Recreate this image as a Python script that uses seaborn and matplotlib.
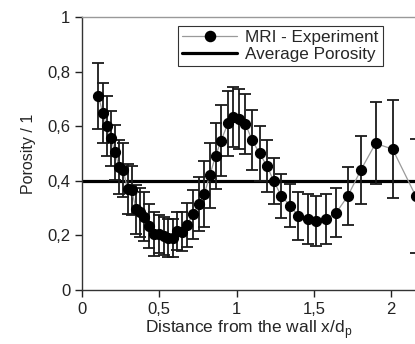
import matplotlib
matplotlib.use("Agg")
import matplotlib.pyplot as plt
import seaborn as sns
import pandas as pd
from matplotlib.lines import Line2D
from matplotlib.ticker import FuncFormatter

distance = [0.106, 0.134, 0.160, 0.186, 0.214, 0.240, 0.266, 0.295, 0.322, 0.350,
            0.376, 0.402, 0.435, 0.468, 0.500, 0.530, 0.558, 0.586, 0.618, 0.648,
            0.680, 0.718, 0.755, 0.792, 0.827, 0.864, 0.900, 0.944, 0.978, 1.018,
            1.058, 1.100, 1.149, 1.197, 1.240, 1.290, 1.346, 1.400, 1.460, 1.517,
            1.580, 1.645, 1.720, 1.805, 1.900, 2.010, 2.160]
porosity = [0.71, 0.65, 0.60, 0.556, 0.504, 0.45, 0.44, 0.37, 0.365, 0.295,
            0.285, 0.268, 0.235, 0.205, 0.205, 0.198, 0.19, 0.19, 0.217, 0.214,
            0.238, 0.278, 0.315, 0.352, 0.42, 0.49, 0.547, 0.61, 0.635, 0.628,
            0.607, 0.55, 0.50, 0.454, 0.40, 0.344, 0.309, 0.272, 0.26, 0.254,
            0.26, 0.283, 0.344, 0.44, 0.537, 0.516, 0.344]
error = [0.12, 0.11, 0.11, 0.10, 0.10, 0.10, 0.10, 0.09, 0.09, 0.09,
         0.09, 0.09, 0.08, 0.08, 0.07, 0.07, 0.07, 0.07, 0.07, 0.07,
         0.08, 0.09, 0.10, 0.12, 0.12, 0.12, 0.13, 0.12, 0.11, 0.11,
         0.11, 0.11, 0.10, 0.095, 0.085, 0.08, 0.08, 0.088, 0.092, 0.092,
         0.092, 0.09, 0.105, 0.125, 0.15, 0.18, 0.21]
average_porosity = 0.4
x_ticks = [0, 0.5, 1, 1.5, 2]
y_ticks = [0, 0.2, 0.4, 0.6, 0.8, 1]

df = pd.DataFrame({"x": distance, "y": porosity, "e": error})

sns.set_style("ticks")
plt.rcParams["font.family"] = ["Liberation Sans", "DejaVu Sans"]

fig = plt.figure(figsize=(4.15, 3.44), dpi=100)
ax = fig.add_axes([0.1976, 0.157, 0.8024, 0.7936])

ax.axhline(average_porosity, color="black", lw=2.3, zorder=1)
ax.errorbar(df["x"], df["y"], yerr=df["e"], fmt="none", ecolor="#1a1a1a",
            elinewidth=1.3, capsize=4, capthick=1.3, zorder=2)
sns.lineplot(data=df, x="x", y="y", ax=ax, color="#9a9a9a", lw=0.9,
             marker="o", markersize=7.3, markerfacecolor="black",
             markeredgecolor="black", sort=False, zorder=3)

ax.set_xlim(0, 2.155)
ax.set_ylim(0, 1)
ax.set_xticks(x_ticks)
ax.set_yticks(y_ticks)
fmt = FuncFormatter(lambda v, p: ("%g" % v).replace(".", ","))
ax.xaxis.set_major_formatter(fmt)
ax.yaxis.set_major_formatter(fmt)
ax.tick_params(labelsize=12, colors="#222222", length=5, width=1, direction="out")
ax.set_xlabel("Distance from the wall x/d$_\\mathregular{p}$", fontsize=12.5, labelpad=1)
ax.set_ylabel("Porosity / 1", fontsize=11.5, labelpad=8)

for s in ["left", "bottom"]:
    ax.spines[s].set_color("#333333")
    ax.spines[s].set_linewidth(1)
ax.spines["top"].set_color("#999999")
ax.spines["top"].set_linewidth(1)
ax.spines["right"].set_visible(False)

handles = [
    Line2D([], [], color="#9a9a9a", lw=0.9, marker="o", markersize=7.3,
           markerfacecolor="black", markeredgecolor="black"),
    Line2D([], [], color="black", lw=2.3),
]
leg = ax.legend(handles, ["MRI - Experiment", "Average Porosity"], loc="upper left",
                bbox_to_anchor=(0.288, 0.967), fontsize=12.3, frameon=True,
                fancybox=False, edgecolor="black", handlelength=3.2,
                borderpad=0.25, labelspacing=0.08, handletextpad=0.5,
                borderaxespad=0)
leg.get_frame().set_linewidth(0.8)
leg.set_clip_on(False)

fig.savefig("out.png", dpi=100)
